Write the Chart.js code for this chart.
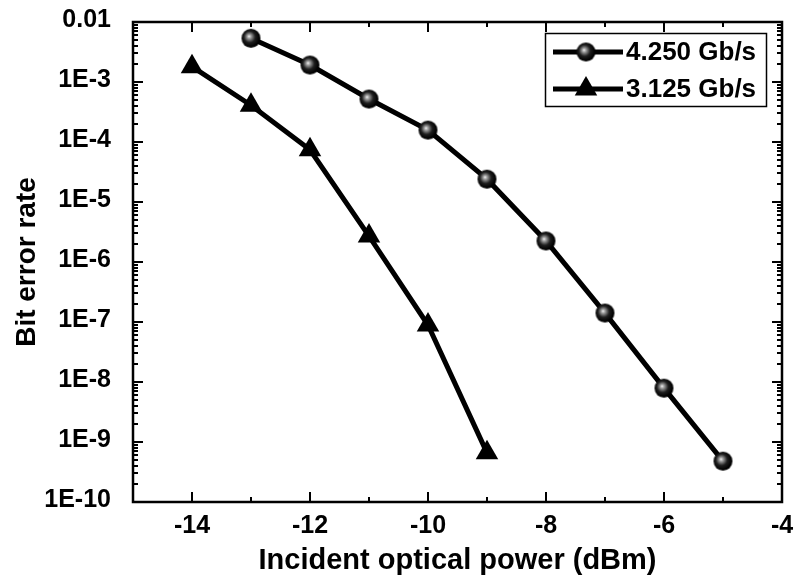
<!DOCTYPE html>
<html><head><meta charset="utf-8">
<script src="https://cdn.jsdelivr.net/npm/chart.js@4/dist/chart.umd.min.js"></script>
<style>html,body{margin:0;padding:0;background:#fff;} #wrap{width:796px;height:586px;}</style>
</head><body><div id="wrap"><canvas id="c" width="796" height="586"></canvas></div>
<script>
// ---- data ----
const ber4250X = [-13, -12, -11, -10, -9, -8, -7, -6, -5];
const ber4250  = [5.35e-3, 1.92e-3, 5.2e-4, 1.58e-4, 2.4e-5, 2.24e-6, 1.41e-7, 7.9e-9, 4.8e-10];
const ber3125X = [-14, -13, -12, -11, -10, -9];
const ber3125  = [1.8e-3, 4.1e-4, 7.4e-5, 2.7e-6, 8.9e-8, 6.6e-10];
const seriesLabels = ['4.250 Gb/s', '3.125 Gb/s'];
const xTicks = [-14, -12, -10, -8, -6, -4];
const xMinorTicks = [-13, -11, -9, -7, -5];
const yTicks = [1e-10, 1e-9, 1e-8, 1e-7, 1e-6, 1e-5, 1e-4, 1e-3, 1e-2];
const yTickLabels = ['1E-10', '1E-9', '1E-8', '1E-7', '1E-6', '1E-5', '1E-4', '1E-3', '0.01'];
const xTitle = 'Incident optical power (dBm)';
const yTitle = 'Bit error rate';

const FONT = '"Liberation Sans", Arial, Helvetica, sans-serif';

function sphere(r) {
  const s = 2 * r + 2;
  const c = document.createElement('canvas');
  c.width = c.height = s;
  const g = c.getContext('2d');
  const cx = s / 2, cy = s / 2;
  const grad = g.createRadialGradient(cx - 2, cy - 2, 0, cx - 1, cy - 1, r);
  grad.addColorStop(0, '#f4f4f4');
  grad.addColorStop(0.22, '#9a9a9a');
  grad.addColorStop(0.6, '#1e1e1e');
  grad.addColorStop(1, '#000');
  g.fillStyle = grad;
  g.beginPath(); g.arc(cx, cy, r, 0, Math.PI * 2); g.fill();
  return c;
}
const ballImg = sphere(9.5);

const decorPlugin = {
  id: 'decor',
  afterDraw(chart) {
    const ctx = chart.ctx;
    const a = chart.chartArea;
    const xs = chart.scales.x, ys = chart.scales.y;
    ctx.save();
    ctx.strokeStyle = '#000';
    ctx.fillStyle = '#000';
    // frame
    ctx.lineWidth = 2.5;
    ctx.strokeRect(a.left, a.top, a.right - a.left, a.bottom - a.top);
    // ticks
    ctx.lineWidth = 2;
    ctx.beginPath();
    const xt = (v, len) => {
      const p = Math.round(xs.getPixelForValue(v));
      ctx.moveTo(p, a.bottom); ctx.lineTo(p, a.bottom - len);
      ctx.moveTo(p, a.top); ctx.lineTo(p, a.top + len);
    };
    xTicks.forEach(v => xt(v, 10));
    xMinorTicks.forEach(v => xt(v, 5));
    const yt = (v, len) => {
      const p = Math.round(ys.getPixelForValue(v));
      ctx.moveTo(a.left, p); ctx.lineTo(a.left + len, p);
      ctx.moveTo(a.right, p); ctx.lineTo(a.right - len, p);
    };
    yTicks.forEach((v, i) => {
      yt(v, 10);
      if (i < yTicks.length - 1) {
        for (let k = 2; k <= 9; k++) yt(v * k, 5);
      }
    });
    ctx.stroke();

    // axis titles
    ctx.font = 'bold 29px ' + FONT;
    ctx.textAlign = 'center';
    ctx.textBaseline = 'middle';
    ctx.fillText(xTitle, (a.left + a.right) / 2, 561);
    ctx.font = 'bold 28px ' + FONT;
    ctx.save();
    ctx.translate(27, (a.top + a.bottom) / 2);
    ctx.rotate(-Math.PI / 2);
    ctx.fillText(yTitle, 0, 0);
    ctx.restore();

    // legend
    const bx = 545, by = 33, bw = 221, bh = 73;
    ctx.lineWidth = 1.5;
    ctx.strokeRect(bx + 0.5, by + 0.5, bw, bh);
    const rows = [52, 89];
    ctx.lineWidth = 5;
    ctx.lineCap = 'butt';
    rows.forEach(y => {
      ctx.beginPath(); ctx.moveTo(553, y); ctx.lineTo(623, y); ctx.stroke();
    });
    ctx.drawImage(ballImg, 586 - ballImg.width / 2, rows[0] - ballImg.height / 2);
    Chart.helpers.drawPoint(ctx, {pointStyle: 'triangle', radius: 13, rotation: 0, borderWidth: 0}, 586, rows[1]);
    ctx.font = 'bold 26px ' + FONT;
    ctx.textAlign = 'left';
    ctx.textBaseline = 'middle';
    ctx.fillText(seriesLabels[0], 626, rows[0] + 1);
    ctx.fillText(seriesLabels[1], 626, rows[1] + 1);
    ctx.restore();
  }
};

new Chart(document.getElementById('c'), {
  type: 'line',
  data: {
    datasets: [
      {
        label: seriesLabels[0],
        data: ber4250X.map((x, i) => ({x, y: ber4250[i]})),
        borderColor: '#000', borderWidth: 5,
        pointStyle: ballImg, pointRadius: 9,
        tension: 0, fill: false
      },
      {
        label: seriesLabels[1],
        data: ber3125X.map((x, i) => ({x, y: ber3125[i]})),
        borderColor: '#000', borderWidth: 5,
        pointStyle: 'triangle', pointRadius: 13, pointBorderWidth: 0,
        pointBackgroundColor: '#000',
        tension: 0, fill: false
      }
    ]
  },
  options: {
    responsive: false,
    animation: false,
    devicePixelRatio: 1,
    layout: {padding: {top: 22, right: 11, left: 0, bottom: 0}},
    plugins: {legend: {display: false}, tooltip: {enabled: false}},
    scales: {
      x: {
        type: 'linear', min: -15, max: -4,
        grid: {display: false}, border: {display: false},
        afterBuildTicks: s => { s.ticks = xTicks.map(v => ({value: v})); },
        afterFit: s => { s.height = 84; s.paddingLeft = 0; s.paddingRight = 0; },
        ticks: {color: '#000', font: {family: FONT, size: 25, weight: 'bold'}, padding: 1, maxRotation: 0,
          callback: v => String(v)}
      },
      y: {
        type: 'logarithmic', min: 1e-10, max: 1e-2,
        grid: {display: false}, border: {display: false},
        afterBuildTicks: s => { s.ticks = yTicks.map(v => ({value: v})); },
        afterFit: s => { s.width = 133; s.paddingTop = 0; s.paddingBottom = 0; },
        ticks: {color: '#000', font: {family: FONT, size: 25, weight: 'bold'}, padding: 14, labelOffset: -2,
          callback: v => { const i = yTicks.indexOf(v); return i >= 0 ? yTickLabels[i] : ''; }}
      }
    }
  },
  plugins: [decorPlugin]
});
</script>
</body></html>
